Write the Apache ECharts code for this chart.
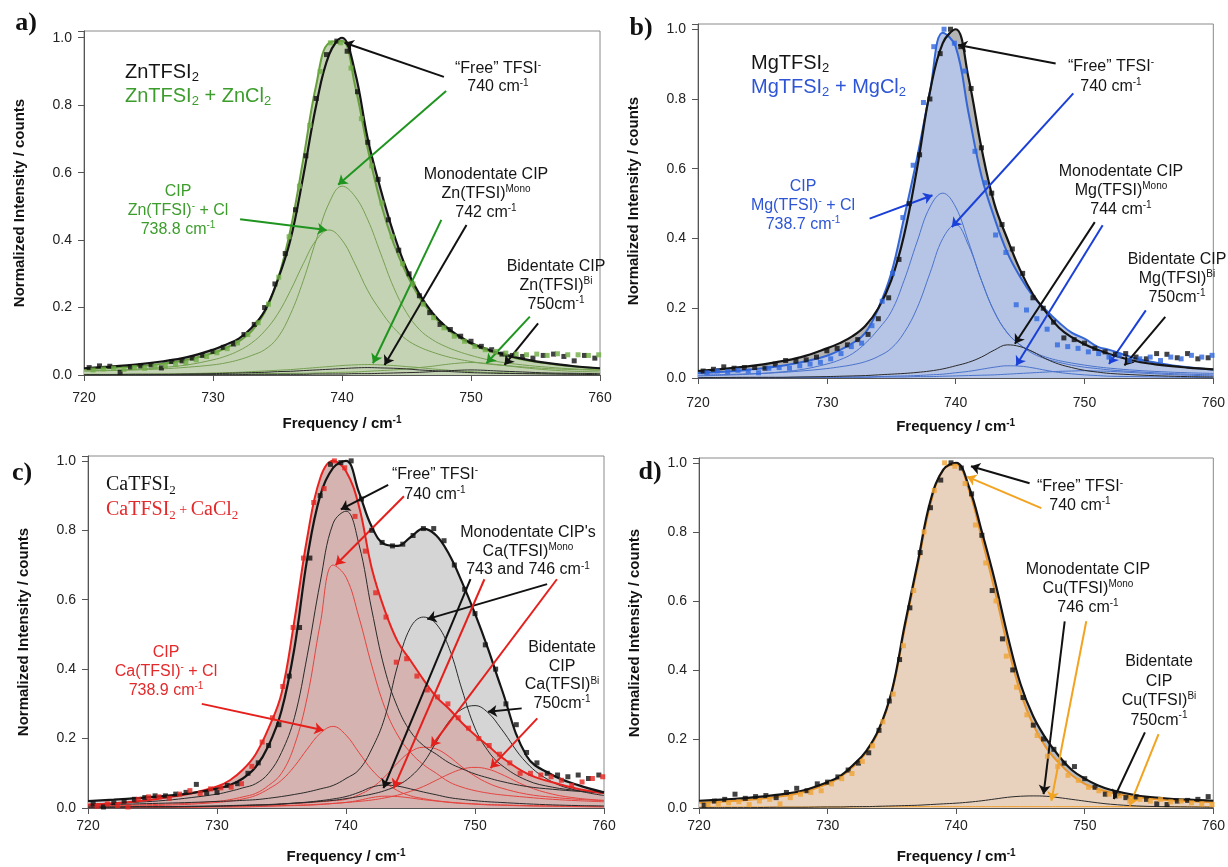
<!DOCTYPE html>
<html><head><meta charset="utf-8">
<script src="https://cdn.jsdelivr.net/npm/echarts@6/dist/echarts.min.js"></script>
<style>html,body{margin:0;padding:0;background:#fff}#c{width:1228px;height:867px}</style>
</head><body><div id="c"></div>
<script>
// ---------- shared frequency grid for fitted curves (cm-1) ----------
const fx = [720,722,724,726,728,730,731,732,733,734,735,736,737,738,739,740,741,742,743,744,745,746,747,748,749,750,751,752,754,756,758,760];
// frequency positions of measured points
const ptsX  = [720.4,721.2,722.0,722.8,723.6,724.4,725.2,726.0,726.8,727.6,728.4,729.2,730.0,730.8,731.6,732.4,733.2,734.0,734.8,735.6,736.4,737.2,738.0,738.8,739.6,740.4,741.2,742.0,742.8,743.6,744.4,745.2,746.0,746.8,747.6,748.4,749.2,750.0,750.8,751.6,752.4,753.2,754.0,754.8,755.6,756.4,757.2,758.0,758.8,759.6];
const ptsX2 = [720.7,721.5,722.3,723.1,723.9,724.7,725.5,726.3,727.1,727.9,728.7,729.5,730.3,731.1,731.9,732.7,733.5,734.3,735.1,735.9,736.7,737.5,738.3,739.1,739.9,740.7,741.5,742.3,743.1,743.9,744.7,745.5,746.3,747.1,747.9,748.7,749.5,750.3,751.1,751.9,752.7,753.5,754.3,755.1,755.9,756.7,757.5,758.3,759.1,759.9];
const xTicks = [720,730,740,750,760];

// ---------- panel a : Zn ----------
const aBlackFit = [0.020,0.025,0.031,0.040,0.053,0.075,0.090,0.108,0.14,0.19,0.28,0.40,0.59,0.80,0.95,1.0,0.90,0.70,0.55,0.42,0.315,0.24,0.185,0.145,0.117,0.095,0.080,0.067,0.048,0.035,0.026,0.020];
const aGreenFit = [0.018,0.021,0.026,0.033,0.045,0.065,0.080,0.10,0.13,0.185,0.28,0.43,0.64,0.86,0.985,0.99,0.86,0.67,0.51,0.39,0.30,0.23,0.18,0.14,0.113,0.092,0.076,0.064,0.046,0.034,0.025,0.019];
const aGFree = [0.012,0.013,0.015,0.018,0.023,0.030,0.036,0.045,0.058,0.075,0.11,0.18,0.28,0.40,0.51,0.56,0.53,0.46,0.36,0.26,0.185,0.135,0.105,0.085,0.07,0.058,0.048,0.04,0.03,0.023,0.018,0.015];
const aGCIP = [0.012,0.014,0.017,0.022,0.03,0.045,0.056,0.072,0.095,0.13,0.18,0.25,0.33,0.40,0.43,0.40,0.33,0.25,0.19,0.14,0.105,0.083,0.068,0.056,0.047,0.04,0.034,0.03,0.024,0.019,0.016,0.014];
const aGMono = [0.002,0.002,0.003,0.003,0.004,0.006,0.007,0.008,0.01,0.012,0.014,0.016,0.019,0.022,0.025,0.028,0.03,0.031,0.03,0.028,0.025,0.022,0.018,0.015,0.012,0.01,0.008,0.007,0.005,0.004,0.003,0.002];
const aGBi = [0.001,0.001,0.001,0.002,0.002,0.002,0.003,0.003,0.003,0.004,0.004,0.005,0.005,0.006,0.007,0.008,0.009,0.011,0.013,0.015,0.018,0.022,0.026,0.031,0.035,0.037,0.035,0.031,0.022,0.015,0.011,0.009];
const aBMono = [0.001,0.001,0.002,0.002,0.003,0.004,0.005,0.006,0.007,0.008,0.01,0.011,0.013,0.015,0.017,0.019,0.021,0.022,0.021,0.02,0.018,0.015,0.013,0.011,0.009,0.007,0.006,0.005,0.004,0.003,0.002,0.001];
const aBBi = [0,0,0,0.001,0.001,0.001,0.001,0.001,0.002,0.002,0.002,0.002,0.002,0.003,0.003,0.003,0.004,0.004,0.005,0.006,0.007,0.008,0.01,0.012,0.014,0.015,0.014,0.012,0.009,0.006,0.005,0.004];
const aBlackPts = [0.022,0.027,0.026,0.008,0.024,0.027,0.030,0.021,0.040,0.042,0.050,0.058,0.070,0.082,0.092,0.12,0.15,0.20,0.27,0.36,0.49,0.65,0.82,0.95,0.99,0.96,0.84,0.69,0.58,0.46,0.37,0.30,0.235,0.185,0.15,0.135,0.115,0.10,0.085,0.075,0.062,0.058,0.055,0.05,0.058,0.062,0.055,0.042,0.058,0.05];
const aGreenPts = [0.015,0.018,0.020,0.017,0.022,0.020,0.025,0.028,0.032,0.036,0.045,0.055,0.066,0.078,0.095,0.12,0.155,0.21,0.29,0.41,0.56,0.74,0.90,0.985,0.985,0.91,0.76,0.62,0.51,0.41,0.33,0.27,0.21,0.17,0.14,0.115,0.10,0.085,0.075,0.07,0.065,0.062,0.06,0.062,0.058,0.063,0.06,0.06,0.058,0.06];

// ---------- panel b : Mg ----------
const bBlackFit = [0.020,0.026,0.034,0.045,0.060,0.085,0.10,0.12,0.15,0.20,0.28,0.41,0.60,0.82,0.96,1.0,0.86,0.66,0.50,0.40,0.31,0.24,0.19,0.145,0.117,0.097,0.081,0.068,0.048,0.037,0.030,0.025];
const bBlueFit = [0.014,0.018,0.024,0.032,0.045,0.064,0.08,0.10,0.13,0.20,0.30,0.46,0.63,0.82,0.99,0.95,0.76,0.58,0.46,0.36,0.29,0.235,0.195,0.16,0.13,0.113,0.09,0.08,0.056,0.041,0.031,0.024];
const bBCIP = [0.006,0.008,0.011,0.016,0.024,0.04,0.052,0.07,0.10,0.14,0.19,0.28,0.39,0.49,0.53,0.49,0.39,0.28,0.19,0.13,0.095,0.07,0.055,0.045,0.037,0.031,0.027,0.023,0.018,0.014,0.011,0.009];
const bBFree = [0.008,0.01,0.012,0.015,0.02,0.027,0.032,0.038,0.047,0.062,0.085,0.13,0.20,0.30,0.40,0.44,0.38,0.28,0.19,0.13,0.095,0.075,0.06,0.05,0.043,0.037,0.032,0.028,0.022,0.018,0.015,0.013];
const bBlueMono = [0.001,0.001,0.001,0.001,0.002,0.002,0.002,0.003,0.003,0.004,0.005,0.006,0.007,0.009,0.011,0.015,0.019,0.025,0.031,0.035,0.034,0.029,0.022,0.016,0.012,0.009,0.007,0.005,0.004,0.003,0.002,0.001];
const bBlueBi = [0.001,0.001,0.001,0.001,0.001,0.002,0.002,0.002,0.002,0.003,0.003,0.003,0.004,0.004,0.005,0.006,0.007,0.008,0.009,0.011,0.013,0.015,0.017,0.019,0.02,0.021,0.02,0.019,0.015,0.011,0.008,0.006];
const bBlackMono = [0.001,0.0015,0.002,0.002,0.003,0.004,0.005,0.006,0.007,0.009,0.011,0.013,0.016,0.02,0.026,0.035,0.045,0.06,0.08,0.095,0.09,0.075,0.055,0.04,0.03,0.022,0.017,0.013,0.009,0.006,0.004,0.003];
const bBlackPts = [0.02,0.025,0.032,0.028,0.03,0.03,0.028,0.04,0.05,0.048,0.052,0.06,0.078,0.085,0.095,0.11,0.125,0.17,0.23,0.34,0.50,0.64,0.80,0.93,1.0,0.95,0.83,0.66,0.53,0.44,0.37,0.30,0.23,0.20,0.16,0.115,0.11,0.10,0.085,0.075,0.068,0.07,0.06,0.055,0.07,0.068,0.058,0.07,0.055,0.058];
const bBluePts = [0.015,0.02,0.018,0.022,0.02,0.015,0.028,0.03,0.028,0.035,0.04,0.045,0.055,0.07,0.09,0.10,0.15,0.22,0.30,0.46,0.61,0.79,0.95,1.0,0.96,0.88,0.65,0.56,0.41,0.36,0.21,0.195,0.17,0.14,0.095,0.09,0.085,0.075,0.07,0.06,0.065,0.05,0.055,0.06,0.05,0.06,0.055,0.065,0.06,0.065];

// ---------- panel c : Ca ----------
const cBlackFit = [0.02,0.024,0.029,0.035,0.043,0.056,0.066,0.085,0.118,0.18,0.28,0.46,0.72,0.90,0.98,1.0,0.91,0.81,0.76,0.755,0.78,0.805,0.785,0.73,0.65,0.56,0.46,0.35,0.15,0.095,0.066,0.045];
const cRedFit = [0.01,0.014,0.02,0.03,0.042,0.062,0.08,0.11,0.155,0.23,0.33,0.54,0.78,0.95,1.0,0.97,0.87,0.69,0.57,0.48,0.425,0.37,0.32,0.285,0.245,0.21,0.18,0.148,0.10,0.074,0.055,0.043];
const cBFree = [0.01,0.013,0.017,0.022,0.03,0.04,0.048,0.058,0.07,0.10,0.16,0.26,0.44,0.65,0.82,0.855,0.76,0.57,0.40,0.29,0.22,0.18,0.155,0.13,0.113,0.098,0.087,0.077,0.062,0.054,0.048,0.043];
const cBMono746 = [0.008,0.01,0.012,0.014,0.016,0.019,0.02,0.022,0.024,0.028,0.033,0.039,0.046,0.055,0.065,0.085,0.11,0.17,0.26,0.41,0.52,0.55,0.53,0.46,0.34,0.23,0.165,0.125,0.08,0.06,0.05,0.043];
const cBBi = [0.003,0.003,0.004,0.004,0.005,0.006,0.007,0.008,0.009,0.01,0.012,0.014,0.016,0.019,0.022,0.027,0.033,0.04,0.05,0.065,0.09,0.13,0.19,0.25,0.285,0.295,0.275,0.23,0.13,0.075,0.05,0.036];
const cBMono743 = [0.002,0.002,0.003,0.003,0.004,0.005,0.006,0.007,0.008,0.009,0.011,0.014,0.017,0.021,0.026,0.033,0.045,0.06,0.066,0.063,0.055,0.046,0.038,0.03,0.025,0.021,0.018,0.016,0.012,0.009,0.007,0.006];
const cRFree = [0.006,0.007,0.009,0.011,0.014,0.019,0.024,0.032,0.042,0.065,0.10,0.18,0.32,0.53,0.70,0.665,0.55,0.41,0.29,0.21,0.16,0.125,0.10,0.075,0.06,0.05,0.043,0.038,0.031,0.025,0.021,0.018];
const cRCIP = [0.004,0.005,0.006,0.008,0.011,0.016,0.02,0.026,0.036,0.055,0.08,0.12,0.17,0.215,0.235,0.21,0.16,0.11,0.075,0.05,0.035,0.027,0.021,0.017,0.014,0.012,0.01,0.009,0.007,0.006,0.005,0.004];
const cRMono746 = [0.002,0.002,0.003,0.003,0.004,0.005,0.006,0.007,0.008,0.009,0.011,0.013,0.015,0.018,0.021,0.025,0.038,0.058,0.09,0.13,0.162,0.175,0.17,0.148,0.118,0.092,0.072,0.058,0.04,0.031,0.025,0.021];
const cRBi = [0.002,0.002,0.002,0.003,0.003,0.004,0.004,0.005,0.005,0.006,0.007,0.008,0.009,0.011,0.013,0.016,0.019,0.023,0.029,0.037,0.048,0.062,0.08,0.098,0.112,0.117,0.112,0.098,0.063,0.04,0.028,0.022];
const cRMono743 = [0.001,0.001,0.001,0.002,0.002,0.003,0.003,0.003,0.004,0.005,0.006,0.007,0.008,0.01,0.013,0.016,0.022,0.03,0.034,0.033,0.029,0.024,0.02,0.016,0.013,0.011,0.009,0.008,0.006,0.005,0.004,0.003];
const cBlackPts = [0.012,0.003,0.015,0.02,0.025,0.03,0.035,0.035,0.04,0.045,0.068,0.043,0.045,0.065,0.07,0.10,0.13,0.18,0.24,0.38,0.52,0.72,0.90,0.99,0.995,1.0,0.89,0.80,0.765,0.755,0.76,0.785,0.805,0.805,0.77,0.70,0.63,0.56,0.47,0.40,0.30,0.24,0.16,0.13,0.10,0.095,0.09,0.095,0.085,0.095];
const cRedPts = [0.005,0.012,0.007,0.003,0.025,0.032,0.032,0.028,0.04,0.05,0.042,0.055,0.058,0.06,0.07,0.12,0.19,0.26,0.35,0.52,0.72,0.88,0.92,1.0,0.98,0.84,0.74,0.62,0.55,0.42,0.43,0.38,0.34,0.32,0.30,0.26,0.23,0.20,0.18,0.155,0.13,0.10,0.10,0.095,0.09,0.08,0.065,0.075,0.085,0.09];

// ---------- panel d : Cu ----------
const dBlackFit = [0.021,0.025,0.03,0.038,0.05,0.075,0.093,0.125,0.165,0.23,0.34,0.53,0.71,0.89,0.98,1.0,0.93,0.80,0.66,0.50,0.36,0.265,0.20,0.15,0.11,0.085,0.066,0.053,0.037,0.029,0.024,0.021];
const dOrangeFit = [0.015,0.019,0.024,0.032,0.045,0.07,0.09,0.12,0.16,0.225,0.335,0.52,0.70,0.88,0.98,0.995,0.92,0.78,0.63,0.47,0.335,0.24,0.175,0.13,0.095,0.07,0.055,0.045,0.031,0.024,0.02,0.017];
const dBlackMono = [0.001,0.001,0.001,0.002,0.002,0.003,0.003,0.004,0.004,0.005,0.006,0.007,0.008,0.01,0.012,0.014,0.017,0.021,0.026,0.031,0.034,0.035,0.034,0.03,0.025,0.02,0.015,0.011,0.006,0.004,0.003,0.002];
const dOrangeComp = [0.003,0.003,0.003,0.003,0.003,0.003,0.003,0.003,0.004,0.004,0.004,0.004,0.004,0.004,0.004,0.004,0.004,0.004,0.004,0.004,0.004,0.004,0.004,0.004,0.004,0.004,0.004,0.004,0.004,0.004,0.004,0.004];
const dBlackPts = [0.008,0.02,0.025,0.04,0.028,0.033,0.036,0.03,0.045,0.057,0.05,0.07,0.075,0.09,0.11,0.13,0.16,0.225,0.31,0.43,0.58,0.74,0.87,0.95,1.0,0.985,0.91,0.79,0.63,0.49,0.40,0.32,0.24,0.2,0.17,0.13,0.12,0.085,0.06,0.04,0.035,0.03,0.032,0.025,0.012,0.01,0.02,0.022,0.025,0.033];
const dOrangePts = [0.01,0.012,0.015,0.018,0.01,0.02,0.025,0.012,0.03,0.04,0.045,0.05,0.07,0.085,0.10,0.135,0.18,0.25,0.33,0.47,0.63,0.80,0.92,1.0,0.99,0.94,0.82,0.71,0.60,0.44,0.35,0.27,0.21,0.15,0.12,0.095,0.08,0.06,0.05,0.04,0.035,0.02,0.025,0.02,0.025,0.018,0.02,0.015,0.012,0.01];

// ---------- annotation arrows (tail x,y -> head x,y in data units) ----------
const aArrowsBlack = [[747.9,0.884,740.2,0.985],[749.65,0.445,743.3,0.03],[755.2,0.153,752.6,0.03]];
const aArrowsCol = [[748.07,0.842,739.7,0.564],[732.1,0.462,738.8,0.43],[747.7,0.46,742.4,0.035],[754.56,0.173,751.2,0.035]];
const bArrowsBlack = [[747.76,0.902,740.2,0.955],[750.8,0.447,744.6,0.098],[756.27,0.175,753.1,0.036]];
const bArrowsCol = [[749.13,0.816,739.7,0.433],[733.32,0.457,738.2,0.524],[751.41,0.438,744.7,0.036],[754.76,0.194,751.9,0.04]];
const cArrowsBlack = [[743.27,0.931,739.6,0.86],[749.65,0.659,742.9,0.057],[755.59,0.645,746.3,0.544],[753.62,0.287,751.0,0.277]];
const cArrowsCol = [[744.49,0.898,739.2,0.70],[728.82,0.30,738.25,0.224],[750.73,0.659,743.7,0.057],[756.35,0.659,746.6,0.177],[754.83,0.258,751.2,0.115]];
const dArrowsBlack = [[745.71,0.941,741.15,0.99],[748.44,0.541,746.8,0.04],[754.68,0.219,752.25,0.026]];
const dArrowsCol = [[746.62,0.869,740.85,0.96],[750.12,0.541,747.4,0.021],[755.74,0.214,753.5,0.007]];

// ---------- layout / styles ----------
const SANS = "'Liberation Sans', Arial, Helvetica, sans-serif";
const SERIF = "'Liberation Serif', 'Times New Roman', serif";
const BLACK = '#151515';
const grids = [
  {left:84, top:31, width:516, height:344, max:1.02, lblMargin:16},
  {left:698, top:24, width:517, height:354, max:1.015, lblMargin:18},
  {left:88, top:456, width:516, height:354, max:1.014, lblMargin:11},
  {left:699, top:458, width:516, height:351, max:1.014, lblMargin:11}
];

const panels = [
  {black:aBlackFit, col:aGreenFit, colComps:[aGFree,aGCIP,aGMono,aGBi], blackComps:[aBMono,aBBi],
   bp:aBlackPts, cp:aGreenPts, ab:aArrowsBlack, ac:aArrowsCol,
   grey:'#b9b9b9', fill:'#c5d3b5', line:'#67a03c', comp:'#76a052', pt:'#6fae45', arrow:'#1f951f'},
  {black:bBlackFit, col:bBlueFit, colComps:[bBCIP,bBFree,bBlueMono,bBlueBi], blackComps:[bBlackMono],
   bp:bBlackPts, cp:bBluePts, ab:bArrowsBlack, ac:bArrowsCol,
   grey:'#b4b4b4', fill:'#b6c5e6', line:'#3466d4', comp:'#4b73cc', pt:'#2f68e0', arrow:'#1a40d8'},
  {black:cBlackFit, col:cRedFit, colComps:[cRFree,cRCIP,cRMono746,cRBi,cRMono743], blackComps:[cBFree,cBMono746,cBBi,cBMono743],
   bp:cBlackPts, cp:cRedPts, ab:cArrowsBlack, ac:cArrowsCol,
   grey:'#d5d5d5', fill:'#d5b3b1', line:'#e8231f', comp:'#e4443f', pt:'#e52521', arrow:'#e5201c'},
  {black:dBlackFit, col:dOrangeFit, colComps:[dOrangeComp], blackComps:[dBlackMono],
   bp:dBlackPts, cp:dOrangePts, ab:dArrowsBlack, ac:dArrowsCol,
   grey:'#b6bcc6', fill:'#e9d2bd', line:'#ea962a', comp:'#ee9f33', pt:'#f0a437', arrow:'#f2a320'}
];

const xy = (xs, ys) => xs.map((x, i) => [x, ys[i]]);
const SM = 0.4;
const series = [];
panels.forEach((p, g) => {
  const base = {type:'line', xAxisIndex:g, yAxisIndex:g, showSymbol:false, symbol:'none', smooth:SM, silent:true, animation:false};
  series.push(Object.assign({}, base, {data:xy(fx,p.black), lineStyle:{width:0}, areaStyle:{color:p.grey, opacity:1}, z:1}));
  series.push(Object.assign({}, base, {data:xy(fx,p.col), lineStyle:{width:0}, areaStyle:{color:p.fill, opacity:1}, z:2}));
  p.colComps.forEach(c => series.push(Object.assign({}, base, {data:xy(fx,c), lineStyle:{width:1, color:p.comp}, z:3})));
  p.blackComps.forEach(c => series.push(Object.assign({}, base, {data:xy(fx,c), lineStyle:{width:1, color:'#2a2a2a'}, z:3})));
  series.push(Object.assign({}, base, {data:xy(fx,p.col), lineStyle:{width:2, color:p.line}, z:4}));
  series.push(Object.assign({}, base, {data:xy(fx,p.black), lineStyle:{width:2.2, color:BLACK}, z:4}));
  const ml = (arr, color) => ({silent:true, animation:false, symbol:['none','arrow'], symbolSize:9,
    lineStyle:{color, width:2, type:'solid'}, label:{show:false},
    emphasis:{disabled:true},
    data: arr.map(a => [{coord:[a[0],a[1]]},{coord:[a[2],a[3]]}])});
  series.push({type:'scatter', xAxisIndex:g, yAxisIndex:g, data:xy(ptsX,p.bp), symbol:'rect', symbolSize:5,
    itemStyle:{color:'#111'}, z:5, silent:true, animation:false, markLine:ml(p.ab, '#111')});
  series.push({type:'scatter', xAxisIndex:g, yAxisIndex:g, data:xy(ptsX2,p.cp), symbol:'rect', symbolSize:5,
    itemStyle:{color:p.pt}, z:6, silent:true, animation:false, markLine:ml(p.ac, p.arrow)});
});

const yFmt = v => (Math.abs(v*5 - Math.round(v*5)) < 1e-6 ? v.toFixed(1) : '');
const xAxis = grids.map((gr, i) => ({
  gridIndex:i, type:'value', min:720, max:760, interval:10,
  axisLine:{show:true, onZero:false, lineStyle:{color:'#555', width:1}},
  axisTick:{show:true, length:6, lineStyle:{color:'#555'}},
  axisLabel:{margin:gr.lblMargin, fontSize:14, color:'#222', fontFamily:SANS,
    formatter: v => (xTicks.indexOf(v) >= 0 ? String(v) : '')},
  splitLine:{show:false},
  name:'Frequency / cm{s|-1}', nameLocation:'middle', nameGap:40,
  nameTextStyle:{fontSize:15, fontWeight:'bold', fontFamily:SANS, color:'#111', lineHeight:18,
    rich:{s:{fontSize:10, fontWeight:'bold', fontFamily:SANS, color:'#111', verticalAlign:'top', lineHeight:10}}}
}));
const yAxis = grids.map((gr, i) => ({
  gridIndex:i, type:'value', min:0, max:gr.max, interval:0.2,
  axisLine:{show:true, lineStyle:{color:'#555', width:1}},
  axisTick:{show:true, length:6, lineStyle:{color:'#555'}},
  axisLabel:{margin:12, fontSize:14, color:'#222', fontFamily:SANS, formatter:yFmt},
  splitLine:{show:false},
  name:'Normalized Intensity / counts', nameLocation:'middle', nameGap:57,
  nameTextStyle:{fontSize:15, fontWeight:'bold', fontFamily:SANS, color:'#111'}
}));

// ---------- text annotations ----------
function rich(color, size, fam, weight) {
  const w = weight || 'normal';
  const lh = Math.round(size * 1.2);
  return {
    n:{fill:color, fontSize:size, fontFamily:fam, fontWeight:w, lineHeight:lh},
    p:{fill:color, fontSize:Math.round(size*0.7), fontFamily:fam, fontWeight:w, lineHeight:lh},
    sup:{fill:color, fontSize:Math.round(size*0.62), fontFamily:fam, fontWeight:w, lineHeight:Math.round(size*0.7), verticalAlign:'top'},
    sub:{fill:color, fontSize:Math.round(size*0.65), fontFamily:fam, fontWeight:w, lineHeight:Math.round(size*0.55), verticalAlign:'bottom'}
  };
}
function txt(x, y1, align, lh, size, fam, color, text) {
  const r = rich(color, size, fam);
  Object.keys(r).forEach(k => { if (k === 'n' || k === 'p') r[k].lineHeight = lh; });
  return {type:'text', x:x, y:y1 - lh/2, silent:true, z:100,
    style:{text:text, rich:r, align:align, verticalAlign:'top', fontSize:size, fontFamily:fam, fill:color}};
}
const GREEN = '#3c9d2c', BLUE = '#2d55d5', RED = '#e4292b';
const texts = [
  // panel a
  txt(125, 72, 'left', 24, 20, SANS, BLACK, '{n|ZnTFSI}{sub|2}'),
  txt(125, 96, 'left', 24, 20, SANS, GREEN, '{n|ZnTFSI}{sub|2}{n| + ZnCl}{sub|2}'),
  txt(498, 69, 'center', 18, 16, SANS, BLACK, '{n|“Free” TFSI}{sup|-}\n{n|740 cm}{sup|-1}'),
  txt(178, 192, 'center', 19, 16, SANS, GREEN, '{n|CIP}\n{n|Zn(TFSI)}{sup|-}{n| + Cl}\n{n|738.8 cm}{sup|-1}'),
  txt(486, 175, 'center', 19, 16, SANS, BLACK, '{n|Monodentate CIP}\n{n|Zn(TFSI)}{sup|Mono}\n{n|742 cm}{sup|-1}'),
  txt(556, 267, 'center', 19, 16, SANS, BLACK, '{n|Bidentate CIP}\n{n|Zn(TFSI)}{sup|Bi}\n{n|750cm}{sup|-1}'),
  // panel b
  txt(751, 63, 'left', 24, 20, SANS, BLACK, '{n|MgTFSI}{sub|2}'),
  txt(751, 87, 'left', 24, 20, SANS, BLUE, '{n|MgTFSI}{sub|2}{n| + MgCl}{sub|2}'),
  txt(1111, 67, 'center', 20, 16, SANS, BLACK, '{n|“Free” TFSI}{sup|-}\n{n|740 cm}{sup|-1}'),
  txt(803, 187, 'center', 19, 16, SANS, BLUE, '{n|CIP}\n{n|Mg(TFSI)}{sup|-}{n| + Cl}\n{n|738.7 cm}{sup|-1}'),
  txt(1121, 172, 'center', 19, 16, SANS, BLACK, '{n|Monodentate CIP}\n{n|Mg(TFSI)}{sup|Mono}\n{n|744 cm}{sup|-1}'),
  txt(1177, 260, 'center', 19, 16, SANS, BLACK, '{n|Bidentate CIP}\n{n|Mg(TFSI)}{sup|Bi}\n{n|750cm}{sup|-1}'),
  // panel c
  txt(106, 485, 'left', 25, 20, SERIF, BLACK, '{n|CaTFSI}{sub|2}'),
  txt(106, 510, 'left', 25, 20, SERIF, RED, '{n|CaTFSI}{sub|2}{p| + }{n|CaCl}{sub|2}'),
  txt(435, 475, 'center', 20, 16, SANS, BLACK, '{n|“Free” TFSI}{sup|-}\n{n|740 cm}{sup|-1}'),
  txt(166, 653, 'center', 19, 16, SANS, RED, '{n|CIP}\n{n|Ca(TFSI)}{sup|-}{n| + Cl}\n{n|738.9 cm}{sup|-1}'),
  txt(528, 533, 'center', 18.5, 16, SANS, BLACK, "{n|Monodentate CIP's}\n{n|Ca(TFSI)}{sup|Mono}\n{n|743 and 746 cm}{sup|-1}"),
  txt(562, 648, 'center', 18.5, 16, SANS, BLACK, '{n|Bidentate}\n{n|CIP}\n{n|Ca(TFSI)}{sup|Bi}\n{n|750cm}{sup|-1}'),
  // panel d
  txt(1080, 487, 'center', 18.5, 16, SANS, BLACK, '{n|“Free” TFSI}{sup|-}\n{n|740 cm}{sup|-1}'),
  txt(1088, 570, 'center', 19, 16, SANS, BLACK, '{n|Monodentate CIP}\n{n|Cu(TFSI)}{sup|Mono}\n{n|746 cm}{sup|-1}'),
  txt(1159, 662, 'center', 19.4, 16, SANS, BLACK, '{n|Bidentate}\n{n|CIP}\n{n|Cu(TFSI)}{sup|Bi}\n{n|750cm}{sup|-1}')
];
const panelLabels = [['a)',26,23],['b)',641,28],['c)',22,473],['d)',650,472]].map(l => ({
  type:'text', x:l[1], y:l[2], silent:true, z:100,
  style:{text:l[0], fontSize:26, fontWeight:'bold', fontFamily:SERIF, fill:'#111', align:'center', verticalAlign:'middle'}
}));

const chart = echarts.init(document.getElementById('c'), null, {renderer:'canvas'});
chart.setOption({
  animation:false,
  backgroundColor:'#ffffff',
  grid: grids.map(g => ({left:g.left, top:g.top, width:g.width, height:g.height, show:true, borderColor:'#8a8a8a', borderWidth:1, backgroundColor:'transparent'})),
  xAxis: xAxis,
  yAxis: yAxis,
  series: series,
  graphic: texts.concat(panelLabels)
});
</script>
</body></html>
